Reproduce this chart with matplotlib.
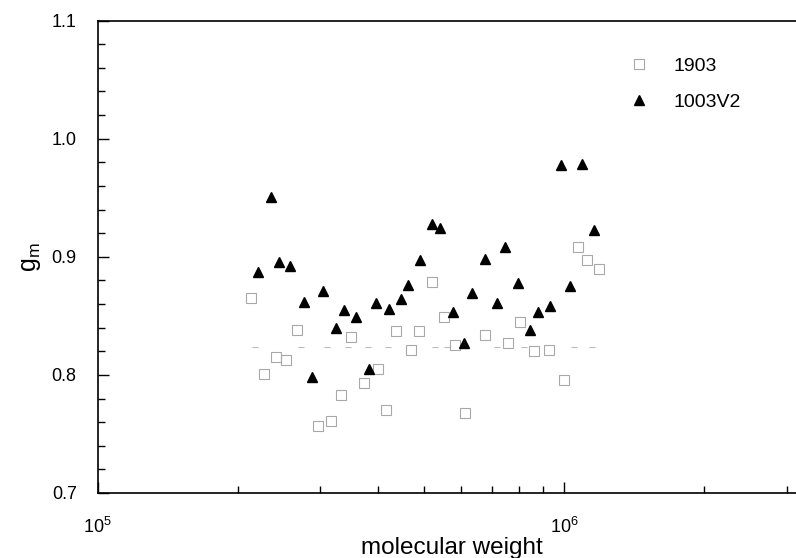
import numpy as np
import matplotlib
matplotlib.use("Agg")
import matplotlib.pyplot as plt
from matplotlib.ticker import LogLocator, MultipleLocator, NullFormatter

plt.rcParams['font.family'] = ['Liberation Sans', 'DejaVu Sans']
plt.rcParams['mathtext.fontset'] = 'custom'
plt.rcParams['mathtext.rm'] = 'Liberation Sans'
plt.rcParams['mathtext.it'] = 'Liberation Sans:italic'

# sample 1903 (open squares)
mw_1903 = [2.13e5, 2.27e5, 2.41e5, 2.53e5, 2.68e5, 2.97e5, 3.17e5, 3.32e5,
           3.50e5, 3.73e5, 3.99e5, 4.16e5, 4.37e5, 4.69e5, 4.88e5, 5.20e5,
           5.53e5, 5.83e5, 6.13e5, 6.77e5, 7.60e5, 8.05e5, 8.61e5, 9.27e5,
           1.00e6, 1.07e6, 1.12e6, 1.19e6]
gm_1903 = [0.865, 0.801, 0.8155, 0.813, 0.838, 0.757, 0.761, 0.783,
           0.832, 0.793, 0.805, 0.770, 0.837, 0.821, 0.837, 0.879,
           0.849, 0.825, 0.7675, 0.834, 0.827, 0.845, 0.820, 0.821,
           0.796, 0.908, 0.8975, 0.890]

# faint remains of squares along g_m ~ 0.824
mw_faint = [2.18e5, 2.73e5, 3.10e5, 3.44e5, 3.80e5, 4.20e5, 5.30e5, 5.60e5,
            7.20e5, 8.20e5, 1.05e6, 1.15e6]
gm_faint = [0.824] * len(mw_faint)

# sample 1003V2 (filled triangles)
mw_1003 = [2.21e5, 2.35e5, 2.45e5, 2.59e5, 2.77e5, 2.88e5, 3.05e5, 3.24e5,
           3.37e5, 3.58e5, 3.81e5, 3.96e5, 4.21e5, 4.47e5, 4.64e5, 4.92e5,
           5.21e5, 5.43e5, 5.77e5, 6.11e5, 6.34e5, 6.77e5, 7.17e5, 7.48e5,
           7.96e5, 8.44e5, 8.79e5, 9.33e5, 9.87e5, 1.03e6, 1.09e6, 1.16e6]
gm_1003 = [0.8875, 0.951, 0.896, 0.892, 0.862, 0.798, 0.871, 0.840,
           0.855, 0.849, 0.805, 0.861, 0.856, 0.864, 0.876, 0.8975,
           0.928, 0.924, 0.853, 0.827, 0.869, 0.898, 0.861, 0.908,
           0.878, 0.838, 0.853, 0.858, 0.978, 0.875, 0.979, 0.923]

fig = plt.figure(figsize=(7.96, 5.58), dpi=100)
ax = fig.add_axes([0.1225, 0.1165, 0.89, 0.8465])

ax.plot(mw_faint, gm_faint, linestyle='None', marker='_', color='#bbbbbb',
        markersize=5, markeredgewidth=0.8)
ax.plot(mw_1903, gm_1903, linestyle='None', marker='s', markerfacecolor='none',
        markeredgecolor='#a8a8a8', markeredgewidth=0.8, markersize=6.5, label='1903')
ax.plot(mw_1003, gm_1003, linestyle='None', marker='^', color='black',
        markersize=7, label='1003V2')

ax.set_xscale('log')
ax.set_xlim(1e5, 3.3e6)
ax.set_ylim(0.7, 1.1)

ax.xaxis.set_major_locator(LogLocator(base=10, numticks=10))
ax.xaxis.set_minor_locator(LogLocator(base=10, subs=np.arange(2, 10), numticks=20))
ax.xaxis.set_minor_formatter(NullFormatter())
ax.yaxis.set_major_locator(MultipleLocator(0.1))
ax.yaxis.set_minor_locator(MultipleLocator(0.02))
ax.yaxis.set_major_formatter(plt.FuncFormatter(lambda v, p: f"{v:.1f}"))

ax.tick_params(which='major', direction='in', length=8, width=1, labelsize=13,
               top=False, right=False)
ax.tick_params(which='minor', direction='in', length=5, width=1,
               top=False, right=False)
ax.tick_params(axis='y', which='major', pad=15)
ax.tick_params(axis='x', which='major', pad=17)

ax.spines['right'].set_visible(False)
for s in ['left', 'top', 'bottom']:
    ax.spines[s].set_linewidth(1.2)

ax.set_xlabel('molecular weight', fontsize=17.5, labelpad=0)
ax.set_ylabel(r'g$_\mathrm{m}$', fontsize=18, labelpad=6)

ax.legend(frameon=False, loc='upper left', bbox_to_anchor=(0.79, 0.898),
          bbox_transform=fig.transFigure, fontsize=14, handlelength=1.0,
          handletextpad=1.3, labelspacing=0.95, borderpad=0, borderaxespad=0)

fig.savefig('out.png', dpi=100)
